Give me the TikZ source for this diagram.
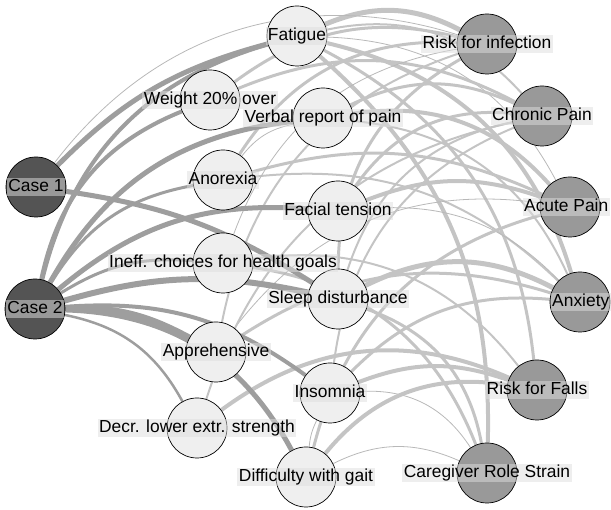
\documentclass[tikz,border=0pt]{standalone}
\usepackage{fontspec}
\setmainfont{Liberation Sans}
\definecolor{symfill}{HTML}{EFEFEF}
\definecolor{diagfill}{HTML}{999999}
\definecolor{casefill}{HTML}{545454}
\definecolor{lblfill}{HTML}{DEDEDE}
\definecolor{caseedge}{HTML}{9E9E9E}
\definecolor{sympedge}{HTML}{C4C4C4}
\definecolor{thinedge}{HTML}{B8B8B8}
\pgfdeclarelayer{edges}
\pgfdeclarelayer{labels}
\pgfsetlayers{edges,main,labels}
\tikzset{
  symp/.style={circle,draw=black,line width=0.7pt,fill=symfill,minimum size=60pt,inner sep=0pt},
  diag/.style={symp,fill=diagfill},
  casen/.style={symp,fill=casefill},
  lbl/.style={fill=lblfill,fill opacity=0.5,text opacity=1,inner xsep=1.5pt,inner ysep=0.5pt,
    text height=13pt,text depth=3.5pt,font=\fontsize{17.4}{17.4}\selectfont},
  cedge/.style={draw=caseedge},
  sedge/.style={draw=sympedge},
  tedge/.style={draw=thinedge,line width=0.8pt},
}
\begin{document}
\begin{tikzpicture}[x=1pt,y=1pt]
\useasboundingbox (0,0) rectangle (611,510);
% cases
\node[casen] (c1) at (36,323) {};
\node[casen] (c2) at (35,201) {};
% findings
\node[symp] (fat) at (297,474) {};
\node[symp] (wgt) at (210,410) {};
\node[symp] (verb) at (323,392) {};
\node[symp] (anor) at (223,330) {};
\node[symp] (fac) at (338,299) {};
\node[symp] (ineff) at (223,247) {};
\node[symp] (sleep) at (338,211) {};
\node[symp] (appr) at (216,158) {};
\node[symp] (insom) at (330,117) {};
\node[symp] (decr) at (197,82) {};
\node[symp] (gait) at (306,33) {};
% diagnoses
\node[diag] (rinf) at (487,466) {};
\node[diag] (chr) at (542,394) {};
\node[diag] (acu) at (570,303) {};
\node[diag] (anx) at (580,208) {};
\node[diag] (rfall) at (537,120) {};
\node[diag] (care) at (487,37) {};

\begin{pgfonlayer}{edges}
% finding -> diagnosis links
\draw[sedge,line width=5] (fat) to[bend left=25] (rinf);
\draw[sedge,line width=2] (fat) to[bend left=30] (chr);
\draw[tedge] (fat) to[bend left=30] (acu);
\draw[sedge,line width=4] (fat) to[bend left=30] (anx);
\draw[sedge,line width=3] (fat) to[bend left=28] (rfall);
\draw[sedge,line width=4] (fat) to[bend left=25] (care);
\draw[sedge,line width=3] (wgt) to[bend left=25] (rinf);
\draw[sedge,line width=3] (wgt) to[bend left=25] (chr);
\draw[sedge,line width=3] (verb) to[bend left=25] (chr);
\draw[sedge,line width=4] (verb) to[bend left=28] (acu);
\draw[sedge,line width=2] (verb) to[bend left=30] (anx);
\draw[sedge,line width=3] (anor) to[bend left=30] (rinf);
\draw[sedge,line width=3] (anor) to[bend left=20] (acu);
\draw[sedge,line width=2] (anor) to[bend left=25] (anx);
\draw[sedge,line width=3] (fac) to[bend left=30] (chr);
\draw[sedge,line width=4] (fac) to[bend left=20] (acu);
\draw[tedge] (fac) to[bend left=25] (anx);
\draw[tedge] (ineff) to[bend left=30] (rinf);
\draw[sedge,line width=3] (ineff) to[bend left=30] (care);
\draw[sedge,line width=2] (ineff) to[bend left=30] (rfall);
\draw[sedge,line width=5] (sleep) to[bend left=27] (anx);
\draw[sedge,line width=3] (sleep) to[bend left=30] (rinf);
\draw[sedge,line width=2] (sleep) to[bend left=30] (chr);
\draw[sedge,line width=3] (sleep) to[bend left=30] (care);
\draw[sedge,line width=3] (appr) to[bend left=25] (anx);
\draw[sedge,line width=2] (appr) to[bend left=30] (rinf);
\draw[tedge] (appr) to[bend left=30] (acu);
\draw[sedge,line width=3] (insom) to[bend left=25] (anx);
\draw[sedge,line width=4] (insom) to[bend left=20] (rfall);
\draw[sedge,line width=2] (insom) to[bend left=30] (chr);
\draw[tedge] (insom) to[bend left=30] (care);
\draw[sedge,line width=4] (decr) to[bend left=30] (rfall);
\draw[sedge,line width=2] (decr) to[bend left=30] (chr);
\draw[sedge,line width=4] (gait) to[bend left=30] (rfall);
\draw[tedge] (gait) to[bend left=25] (care);
\draw[sedge,line width=3] (gait) to[bend left=30] (acu);
\draw[tedge] (anor) to[bend left=20] (verb);
\draw[tedge] (gait) to[bend left=10] (insom);
% case -> finding links
\draw[tedge] (c1) to[bend left=35] (rinf);
\draw[cedge,line width=5] (c1) to[bend left=15] (fat);
\draw[cedge,line width=5] (c1) to[bend left=12] (sleep);
\draw[cedge,line width=4] (c2) to[bend left=30] (fat);
\draw[cedge,line width=4] (c2) to[bend left=28] (wgt);
\draw[cedge,line width=5] (c2) to[bend left=27] (verb);
\draw[cedge,line width=3] (c2) to[bend left=24] (anor);
\draw[cedge,line width=5] (c2) to[bend left=22] (fac);
\draw[cedge,line width=3] (c2) to[bend left=18] (ineff);
\draw[cedge,line width=6] (c2) to[bend left=14] (sleep);
\draw[cedge,line width=6] (c2) to[bend left=15] (appr);
\draw[cedge,line width=4] (c2) to[bend left=20] (insom);
\draw[cedge,line width=2.5] (c2) to[bend left=25] (decr);
\draw[cedge,line width=5] (c2) to[bend left=30] (gait);
\end{pgfonlayer}

\begin{pgfonlayer}{labels}
\node[lbl] (c1-l) at (c1) {Case 1};
\node[lbl] (c2-l) at (c2) {Case 2};
\node[lbl] (fat-l) at (fat) {Fatigue};
\node[lbl] (wgt-l) at (wgt) {Weight 20\% over};
\node[lbl] (verb-l) at (verb) {Verbal report of pain};
\node[lbl] (anor-l) at (anor) {Anorexia};
\node[lbl] (fac-l) at (fac) {Facial tension};
\node[lbl] (ineff-l) at (ineff) {Ineff. choices for health goals};
\node[lbl] (sleep-l) at (sleep) {Sleep disturbance};
\node[lbl] (appr-l) at (appr) {Apprehensive};
\node[lbl] (insom-l) at (insom) {Insomnia};
\node[lbl] (decr-l) at (decr) {Decr. lower extr. strength};
\node[lbl] (gait-l) at (gait) {Difficulty with gait};
\node[lbl] (rinf-l) at (rinf) {Risk for infection};
\node[lbl] (chr-l) at (chr) {Chronic Pain};
\node[lbl,anchor=east] (acu-l) at ([xshift=40pt]acu.center) {Acute Pain};
\node[lbl,anchor=east] (anx-l) at ([xshift=31pt]anx.center) {Anxiety};
\node[lbl] (rfall-l) at (rfall) {Risk for Falls};
\node[lbl] (care-l) at (care) {Caregiver Role Strain};
\end{pgfonlayer}
\end{tikzpicture}
\end{document}
